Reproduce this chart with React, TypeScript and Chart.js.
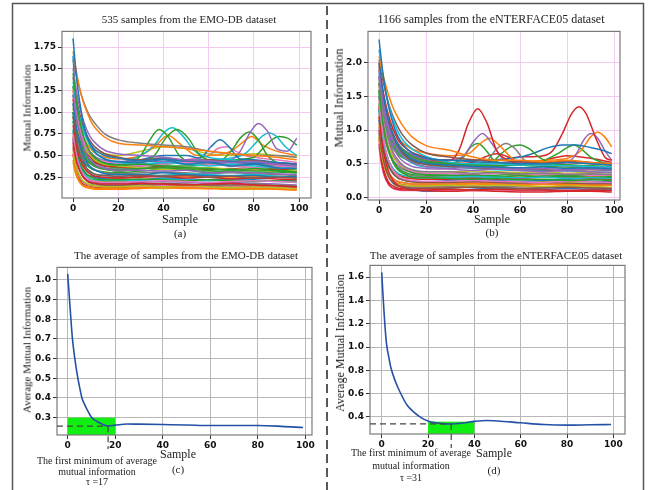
import React, { useEffect, useRef } from "react";
import { Chart, registerables } from "chart.js";

Chart.register(...registerables);

// ---------------- DATA ----------------
const TAB10 = ["#1f77b4", "#ff7f0e", "#2ca02c", "#d62728", "#9467bd", "#8c564b", "#e377c2", "#7f7f7f", "#bcbd22", "#17becf"];

const SAMPLE_X = [0, 1, 2, 4, 6, 8, 10, 14, 20, 30, 40, 50, 60, 70, 80, 90, 99];
const PEAK_HEAD_X = [0, 1, 2, 4, 6, 8, 10, 14, 20];
const X_TICKS = [0, 20, 40, 60, 80, 100];
const EMO_Y_TICKS = [0.25, 0.5, 0.75, 1.0, 1.25, 1.5, 1.75];
const ENT_Y_TICKS = [0.0, 0.5, 1.0, 1.5, 2.0];
const EMO_AVG_Y_TICKS = [0.3, 0.4, 0.5, 0.6, 0.7, 0.8, 0.9, 1.0];
const ENT_AVG_Y_TICKS = [0.4, 0.6, 0.8, 1.0, 1.2, 1.4, 1.6];

// (a) EMO-DB sample curves, values at SAMPLE_X
const EMO_CURVES: number[][] = [
  [1.85, 1.54, 1.29, 0.95, 0.73, 0.61, 0.53, 0.46, 0.43, 0.42, 0.45, 0.4, 0.42, 0.38, 0.4, 0.36, 0.35],
  [1.7, 1.54, 1.39, 1.16, 1.01, 0.89, 0.81, 0.71, 0.64, 0.62, 0.6, 0.58, 0.55, 0.52, 0.5, 0.48, 0.45],
  [1.45, 1.21, 1.03, 0.78, 0.62, 0.52, 0.47, 0.41, 0.39, 0.4, 0.38, 0.36, 0.35, 0.33, 0.35, 0.32, 0.3],
  [0.65, 0.49, 0.39, 0.27, 0.21, 0.19, 0.18, 0.17, 0.17, 0.18, 0.17, 0.16, 0.17, 0.18, 0.16, 0.15, 0.14],
  [1.2, 1.01, 0.86, 0.65, 0.51, 0.44, 0.39, 0.35, 0.33, 0.33, 0.32, 0.33, 0.3, 0.31, 0.3, 0.29, 0.28],
  [0.95, 0.76, 0.61, 0.44, 0.35, 0.31, 0.28, 0.27, 0.26, 0.27, 0.26, 0.27, 0.25, 0.26, 0.24, 0.25, 0.24],
  [0.75, 0.57, 0.44, 0.3, 0.24, 0.21, 0.2, 0.19, 0.19, 0.2, 0.21, 0.2, 0.19, 0.2, 0.21, 0.2, 0.19],
  [1.6, 1.47, 1.36, 1.17, 1.03, 0.93, 0.86, 0.75, 0.68, 0.64, 0.62, 0.6, 0.55, 0.52, 0.5, 0.5, 0.48],
  [0.55, 0.41, 0.32, 0.22, 0.18, 0.16, 0.15, 0.14, 0.14, 0.15, 0.14, 0.15, 0.14, 0.13, 0.14, 0.13, 0.12],
  [1.35, 1.18, 1.04, 0.83, 0.69, 0.59, 0.53, 0.46, 0.42, 0.4, 0.42, 0.4, 0.38, 0.4, 0.38, 0.36, 0.35],
  [1.1, 0.9, 0.74, 0.54, 0.43, 0.36, 0.33, 0.29, 0.28, 0.28, 0.3, 0.28, 0.27, 0.26, 0.27, 0.25, 0.26],
  [0.45, 0.32, 0.24, 0.16, 0.14, 0.13, 0.12, 0.12, 0.12, 0.13, 0.14, 0.13, 0.12, 0.13, 0.12, 0.12, 0.11],
  [1.0, 0.85, 0.74, 0.58, 0.48, 0.42, 0.38, 0.35, 0.34, 0.35, 0.36, 0.34, 0.33, 0.34, 0.32, 0.33, 0.31],
  [0.85, 0.68, 0.55, 0.4, 0.32, 0.28, 0.26, 0.25, 0.24, 0.25, 0.26, 0.24, 0.25, 0.23, 0.24, 0.23, 0.22],
  [1.5, 1.32, 1.17, 0.95, 0.8, 0.7, 0.64, 0.56, 0.52, 0.5, 0.48, 0.45, 0.44, 0.42, 0.43, 0.4, 0.38],
  [0.7, 0.52, 0.4, 0.27, 0.21, 0.18, 0.17, 0.16, 0.16, 0.17, 0.18, 0.17, 0.16, 0.17, 0.16, 0.15, 0.14],
  [1.25, 1.06, 0.92, 0.71, 0.59, 0.51, 0.47, 0.43, 0.41, 0.38, 0.4, 0.42, 0.4, 0.38, 0.36, 0.38, 0.36],
  [0.6, 0.42, 0.32, 0.21, 0.17, 0.16, 0.15, 0.15, 0.15, 0.16, 0.17, 0.16, 0.15, 0.16, 0.17, 0.16, 0.15],
  [1.05, 0.91, 0.81, 0.65, 0.55, 0.49, 0.44, 0.4, 0.38, 0.36, 0.34, 0.35, 0.36, 0.34, 0.33, 0.32, 0.33],
  [0.9, 0.72, 0.59, 0.43, 0.35, 0.3, 0.28, 0.27, 0.26, 0.28, 0.27, 0.29, 0.28, 0.27, 0.28, 0.26, 0.25],
  [1.3, 1.15, 1.02, 0.83, 0.71, 0.62, 0.56, 0.5, 0.47, 0.44, 0.46, 0.43, 0.42, 0.43, 0.41, 0.42, 0.4],
  [0.5, 0.35, 0.25, 0.16, 0.13, 0.12, 0.11, 0.11, 0.11, 0.12, 0.13, 0.12, 0.12, 0.11, 0.12, 0.11, 0.1],
  [0.8, 0.63, 0.51, 0.36, 0.29, 0.25, 0.23, 0.22, 0.22, 0.23, 0.22, 0.21, 0.22, 0.21, 0.2, 0.21, 0.2],
  [1.15, 0.98, 0.84, 0.65, 0.53, 0.47, 0.42, 0.38, 0.37, 0.35, 0.37, 0.36, 0.34, 0.35, 0.33, 0.34, 0.32],
  [0.68, 0.51, 0.4, 0.28, 0.22, 0.2, 0.19, 0.18, 0.18, 0.19, 0.2, 0.19, 0.18, 0.19, 0.18, 0.17, 0.16],
  [1.4, 1.23, 1.09, 0.88, 0.74, 0.65, 0.59, 0.52, 0.48, 0.45, 0.47, 0.44, 0.45, 0.43, 0.44, 0.41, 0.4],
  [0.58, 0.41, 0.31, 0.21, 0.17, 0.16, 0.15, 0.15, 0.15, 0.14, 0.15, 0.14, 0.13, 0.14, 0.13, 0.13, 0.12],
  [0.95, 0.79, 0.66, 0.5, 0.41, 0.36, 0.33, 0.3, 0.29, 0.3, 0.31, 0.3, 0.29, 0.3, 0.29, 0.28, 0.27],
  [0.42, 0.3, 0.23, 0.16, 0.14, 0.13, 0.12, 0.12, 0.12, 0.13, 0.12, 0.13, 0.12, 0.12, 0.11, 0.12, 0.11],
  [0.78, 0.59, 0.47, 0.32, 0.26, 0.23, 0.22, 0.21, 0.21, 0.21, 0.23, 0.22, 0.21, 0.22, 0.21, 0.2, 0.19],
  [1.65, 1.17, 0.86, 0.51, 0.35, 0.28, 0.25, 0.23, 0.22, 0.22, 0.24, 0.23, 0.22, 0.23, 0.22, 0.21, 0.22],
  [0.62, 0.48, 0.39, 0.28, 0.24, 0.22, 0.21, 0.2, 0.2, 0.22, 0.24, 0.26, 0.25, 0.24, 0.26, 0.25, 0.24],
  [1.0, 0.8, 0.66, 0.48, 0.39, 0.35, 0.33, 0.31, 0.3, 0.32, 0.34, 0.33, 0.31, 0.32, 0.3, 0.31, 0.3],
  [0.52, 0.37, 0.27, 0.18, 0.15, 0.14, 0.13, 0.13, 0.13, 0.14, 0.16, 0.15, 0.14, 0.15, 0.14, 0.13, 0.13],
  [1.2, 1.03, 0.9, 0.71, 0.59, 0.53, 0.48, 0.44, 0.43, 0.44, 0.43, 0.41, 0.42, 0.4, 0.41, 0.39, 0.38],
  [0.72, 0.56, 0.46, 0.34, 0.28, 0.26, 0.25, 0.24, 0.24, 0.26, 0.27, 0.28, 0.27, 0.26, 0.27, 0.26, 0.25],
];

// (a) curves with visible peaks: head at PEAK_HEAD_X, then tail points
const EMO_PEAK_HEAD_Y: number[][] = [
  [1.3, 1.1, 0.94, 0.72, 0.58, 0.5, 0.45, 0.41, 0.38],
  [1.1, 0.94, 0.82, 0.65, 0.54, 0.48, 0.44, 0.4, 0.38],
  [1.2, 1.03, 0.9, 0.71, 0.59, 0.53, 0.48, 0.44, 0.42],
  [1.0, 0.87, 0.77, 0.62, 0.53, 0.48, 0.45, 0.42, 0.4],
  [1.0, 0.85, 0.74, 0.58, 0.49, 0.43, 0.39, 0.36, 0.34],
  [0.9, 0.77, 0.67, 0.53, 0.45, 0.4, 0.37, 0.34, 0.32],
  [1.05, 0.9, 0.79, 0.63, 0.53, 0.47, 0.43, 0.4, 0.38],
  [0.95, 0.82, 0.72, 0.58, 0.49, 0.44, 0.41, 0.38, 0.36],
  [1.25, 1.08, 0.94, 0.75, 0.63, 0.57, 0.52, 0.48, 0.46],
  [0.9, 0.77, 0.67, 0.53, 0.45, 0.4, 0.37, 0.34, 0.32],
  [1.15, 1.0, 0.9, 0.74, 0.64, 0.59, 0.55, 0.52, 0.5],
];
const EMO_PEAK_TAIL_X: number[][] = [
  [25, 30, 34, 38, 42, 47, 52, 60, 70, 80, 90, 99],
  [30, 36, 41, 46, 51, 56, 60, 70, 80, 90, 99],
  [30, 36, 40, 44, 48, 54, 60, 70, 80, 90, 99],
  [30, 40, 50, 56, 61, 65, 69, 74, 80, 90, 99],
  [30, 40, 50, 60, 70, 74, 78, 82, 86, 90, 95, 99],
  [30, 40, 50, 60, 66, 70, 74, 78, 82, 86, 92, 99],
  [30, 40, 50, 60, 70, 76, 80, 84, 87, 90, 94, 99],
  [30, 40, 50, 60, 70, 80, 84, 88, 91, 95, 99],
  [30, 36, 42, 48, 55, 60, 70, 75, 79, 84, 90, 99],
  [30, 40, 50, 60, 64, 68, 72, 76, 80, 90, 99],
  [30, 40, 50, 60, 70, 80, 90, 99],
];
const EMO_PEAK_TAIL_Y: number[][] = [
  [0.4, 0.5, 0.68, 0.8, 0.72, 0.5, 0.42, 0.4, 0.38, 0.36, 0.35, 0.33],
  [0.42, 0.5, 0.7, 0.8, 0.7, 0.5, 0.45, 0.42, 0.4, 0.38, 0.36],
  [0.5, 0.62, 0.76, 0.82, 0.74, 0.55, 0.48, 0.45, 0.42, 0.4, 0.38],
  [0.45, 0.5, 0.5, 0.47, 0.6, 0.68, 0.6, 0.46, 0.45, 0.42, 0.4],
  [0.38, 0.42, 0.45, 0.43, 0.45, 0.55, 0.75, 0.87, 0.78, 0.58, 0.55, 0.7],
  [0.35, 0.38, 0.38, 0.4, 0.45, 0.55, 0.7, 0.77, 0.68, 0.5, 0.4, 0.38],
  [0.4, 0.42, 0.44, 0.45, 0.47, 0.52, 0.62, 0.73, 0.76, 0.72, 0.6, 0.5],
  [0.38, 0.4, 0.42, 0.44, 0.45, 0.48, 0.58, 0.68, 0.72, 0.7, 0.62],
  [0.5, 0.6, 0.73, 0.62, 0.5, 0.5, 0.55, 0.65, 0.72, 0.62, 0.55, 0.5],
  [0.35, 0.4, 0.45, 0.5, 0.58, 0.6, 0.55, 0.5, 0.48, 0.45, 0.42],
  [0.55, 0.6, 0.58, 0.52, 0.5, 0.52, 0.5, 0.48],
];
const EMO_PEAK_COLORS = ["#2ca02c", "#2ca02c", "#17becf", "#1f77b4", "#9467bd", "#2ca02c", "#17becf", "#2ca02c", "#ff7f0e", "#e377c2", "#bcbd22"];

// (b) eNTERFACE05 sample curves, values at SAMPLE_X
const ENT_CURVES: number[][] = [
  [2.35, 2.03, 1.76, 1.36, 1.09, 0.91, 0.79, 0.66, 0.58, 0.55, 0.53, 0.52, 0.5, 0.5, 0.52, 0.5, 0.48],
  [2.1, 1.93, 1.78, 1.53, 1.33, 1.19, 1.07, 0.9, 0.77, 0.7, 0.6, 0.55, 0.55, 0.53, 0.55, 0.52, 0.5],
  [1.6, 1.27, 1.02, 0.7, 0.52, 0.41, 0.36, 0.3, 0.29, 0.28, 0.27, 0.28, 0.26, 0.27, 0.25, 0.26, 0.25],
  [1.2, 0.89, 0.66, 0.39, 0.25, 0.18, 0.14, 0.11, 0.1, 0.09, 0.1, 0.09, 0.08, 0.08, 0.09, 0.09, 0.08],
  [1.9, 1.57, 1.32, 0.97, 0.75, 0.62, 0.54, 0.46, 0.43, 0.42, 0.4, 0.42, 0.4, 0.38, 0.4, 0.38, 0.37],
  [1.0, 0.72, 0.53, 0.31, 0.22, 0.17, 0.16, 0.14, 0.14, 0.14, 0.15, 0.14, 0.13, 0.14, 0.15, 0.14, 0.13],
  [1.45, 1.11, 0.86, 0.55, 0.4, 0.32, 0.28, 0.25, 0.24, 0.24, 0.25, 0.24, 0.23, 0.22, 0.24, 0.23, 0.22],
  [1.75, 1.45, 1.21, 0.88, 0.67, 0.56, 0.48, 0.41, 0.38, 0.38, 0.36, 0.37, 0.35, 0.36, 0.34, 0.35, 0.34],
  [0.9, 0.66, 0.5, 0.32, 0.24, 0.2, 0.18, 0.17, 0.17, 0.18, 0.17, 0.18, 0.17, 0.16, 0.17, 0.16, 0.15],
  [1.3, 1.02, 0.81, 0.55, 0.43, 0.36, 0.33, 0.3, 0.29, 0.3, 0.31, 0.3, 0.29, 0.3, 0.28, 0.29, 0.28],
  [2.0, 1.73, 1.5, 1.16, 0.94, 0.78, 0.69, 0.57, 0.51, 0.48, 0.46, 0.45, 0.44, 0.45, 0.43, 0.44, 0.42],
  [1.1, 0.8, 0.61, 0.38, 0.28, 0.24, 0.22, 0.2, 0.2, 0.2, 0.21, 0.2, 0.19, 0.2, 0.19, 0.18, 0.18],
  [1.55, 1.24, 1.01, 0.71, 0.54, 0.44, 0.39, 0.34, 0.33, 0.32, 0.33, 0.31, 0.32, 0.3, 0.31, 0.3, 0.29],
  [0.8, 0.53, 0.37, 0.2, 0.14, 0.12, 0.11, 0.11, 0.11, 0.12, 0.11, 0.12, 0.11, 0.11, 0.1, 0.11, 0.1],
  [1.8, 1.56, 1.35, 1.05, 0.85, 0.71, 0.62, 0.52, 0.46, 0.43, 0.45, 0.44, 0.42, 0.43, 0.41, 0.42, 0.4],
  [1.25, 0.96, 0.75, 0.49, 0.36, 0.29, 0.26, 0.23, 0.22, 0.22, 0.23, 0.22, 0.21, 0.22, 0.21, 0.2, 0.2],
  [1.65, 1.36, 1.14, 0.83, 0.64, 0.53, 0.46, 0.39, 0.36, 0.36, 0.35, 0.36, 0.35, 0.34, 0.35, 0.33, 0.33],
  [0.95, 0.69, 0.52, 0.32, 0.23, 0.19, 0.18, 0.16, 0.16, 0.16, 0.17, 0.16, 0.16, 0.15, 0.16, 0.15, 0.14],
  [1.4, 1.17, 1.0, 0.75, 0.6, 0.51, 0.45, 0.4, 0.38, 0.38, 0.39, 0.38, 0.37, 0.38, 0.36, 0.37, 0.36],
  [2.2, 1.95, 1.74, 1.39, 1.16, 0.98, 0.86, 0.72, 0.61, 0.52, 0.5, 0.5, 0.48, 0.48, 0.47, 0.46, 0.45],
  [1.15, 0.89, 0.7, 0.47, 0.35, 0.29, 0.26, 0.24, 0.23, 0.25, 0.26, 0.25, 0.24, 0.25, 0.26, 0.24, 0.23],
  [0.85, 0.63, 0.48, 0.31, 0.24, 0.21, 0.19, 0.18, 0.18, 0.19, 0.2, 0.19, 0.18, 0.19, 0.18, 0.19, 0.18],
  [1.7, 1.4, 1.17, 0.84, 0.63, 0.51, 0.44, 0.37, 0.34, 0.33, 0.32, 0.33, 0.34, 0.33, 0.32, 0.33, 0.31],
  [1.35, 1.05, 0.82, 0.55, 0.42, 0.35, 0.31, 0.28, 0.27, 0.27, 0.28, 0.27, 0.28, 0.26, 0.27, 0.28, 0.26],
  [1.05, 0.77, 0.58, 0.37, 0.28, 0.23, 0.22, 0.2, 0.2, 0.21, 0.22, 0.21, 0.2, 0.21, 0.2, 0.21, 0.2],
  [1.95, 1.68, 1.46, 1.13, 0.91, 0.76, 0.66, 0.55, 0.49, 0.46, 0.44, 0.43, 0.42, 0.41, 0.4, 0.41, 0.4],
  [0.75, 0.5, 0.34, 0.19, 0.13, 0.11, 0.1, 0.1, 0.1, 0.1, 0.1, 0.11, 0.1, 0.1, 0.11, 0.1, 0.1],
  [1.5, 1.2, 0.97, 0.68, 0.52, 0.42, 0.37, 0.32, 0.31, 0.3, 0.29, 0.3, 0.29, 0.3, 0.29, 0.28, 0.28],
  [1.2, 0.93, 0.72, 0.47, 0.35, 0.29, 0.26, 0.23, 0.22, 0.23, 0.24, 0.23, 0.22, 0.23, 0.22, 0.23, 0.22],
  [1.85, 1.6, 1.38, 1.06, 0.85, 0.71, 0.61, 0.51, 0.45, 0.45, 0.43, 0.41, 0.4, 0.4, 0.39, 0.38, 0.37],
  [1.4, 0.91, 0.61, 0.32, 0.21, 0.17, 0.16, 0.12, 0.09, 0.1, 0.12, 0.14, 0.13, 0.12, 0.13, 0.12, 0.12],
  [1.0, 0.8, 0.64, 0.46, 0.37, 0.31, 0.29, 0.28, 0.27, 0.29, 0.31, 0.3, 0.32, 0.31, 0.3, 0.31, 0.3],
  [1.6, 1.44, 1.29, 1.06, 0.91, 0.79, 0.71, 0.61, 0.54, 0.5, 0.48, 0.47, 0.48, 0.5, 0.48, 0.47, 0.46],
  [0.9, 0.6, 0.41, 0.23, 0.17, 0.14, 0.13, 0.13, 0.13, 0.14, 0.16, 0.15, 0.16, 0.15, 0.14, 0.15, 0.14],
  [1.3, 1.09, 0.93, 0.7, 0.55, 0.47, 0.42, 0.37, 0.35, 0.35, 0.34, 0.36, 0.35, 0.34, 0.35, 0.34, 0.33],
  [2.05, 1.86, 1.68, 1.4, 1.2, 1.05, 0.93, 0.78, 0.66, 0.6, 0.56, 0.55, 0.53, 0.52, 0.54, 0.52, 0.5],
];

// (b) curves with visible peaks
const ENT_PEAK_HEAD_Y: number[][] = [
  [2.0, 1.74, 1.53, 1.22, 1.01, 0.86, 0.77, 0.67, 0.6],
  [1.8, 1.58, 1.39, 1.11, 0.93, 0.8, 0.72, 0.63, 0.57],
  [1.9, 1.67, 1.48, 1.21, 1.02, 0.89, 0.81, 0.72, 0.66],
  [1.5, 1.32, 1.17, 0.95, 0.8, 0.7, 0.64, 0.56, 0.52],
  [1.6, 1.41, 1.25, 1.01, 0.85, 0.74, 0.67, 0.59, 0.55],
  [1.4, 1.24, 1.1, 0.9, 0.76, 0.67, 0.61, 0.54, 0.51],
  [1.7, 1.5, 1.33, 1.08, 0.91, 0.8, 0.72, 0.64, 0.59],
  [1.8, 1.58, 1.39, 1.11, 0.93, 0.8, 0.72, 0.63, 0.57],
  [1.5, 1.32, 1.18, 0.96, 0.81, 0.72, 0.65, 0.58, 0.54],
  [1.6, 1.41, 1.25, 1.02, 0.87, 0.76, 0.69, 0.61, 0.57],
  [1.3, 1.15, 1.03, 0.85, 0.73, 0.64, 0.59, 0.53, 0.49],
  [1.7, 1.49, 1.31, 1.05, 0.87, 0.76, 0.68, 0.59, 0.54],
];
const ENT_PEAK_TAIL_X: number[][] = [
  [25, 30, 34, 38, 42, 46, 50, 55, 60, 70, 80, 90, 99],
  [30, 36, 40, 44, 48, 52, 60, 70, 80, 90, 99],
  [30, 38, 43, 47, 51, 56, 60, 70, 80, 90, 99],
  [30, 36, 39, 42, 45, 49, 55, 70, 80, 90, 99],
  [30, 40, 46, 50, 54, 58, 62, 70, 80, 90, 99],
  [30, 40, 48, 52, 56, 60, 64, 68, 74, 80, 90, 99],
  [30, 40, 50, 60, 66, 72, 78, 84, 90, 95, 99],
  [30, 40, 50, 60, 70, 74, 78, 82, 85, 88, 92, 96, 99],
  [30, 40, 50, 60, 70, 80, 84, 87, 90, 93, 96, 99],
  [30, 40, 50, 60, 70, 80, 86, 90, 93, 96, 99],
  [30, 40, 50, 60, 70, 76, 80, 83, 86, 90, 95, 99],
  [30, 40, 45, 50, 55, 60, 70, 80, 90, 99],
];
const ENT_PEAK_TAIL_Y: number[][] = [
  [0.55, 0.55, 0.7, 1.1, 1.32, 1.1, 0.7, 0.55, 0.5, 0.5, 0.52, 0.5, 0.48],
  [0.55, 0.62, 0.82, 0.95, 0.8, 0.6, 0.5, 0.48, 0.47, 0.45, 0.44],
  [0.62, 0.65, 0.8, 0.88, 0.78, 0.6, 0.5, 0.48, 0.47, 0.45, 0.44],
  [0.5, 0.6, 0.75, 0.8, 0.72, 0.55, 0.5, 0.46, 0.45, 0.43, 0.42],
  [0.5, 0.5, 0.55, 0.72, 0.8, 0.72, 0.55, 0.5, 0.48, 0.46, 0.45],
  [0.48, 0.48, 0.52, 0.65, 0.75, 0.78, 0.72, 0.6, 0.5, 0.48, 0.46, 0.45],
  [0.55, 0.55, 0.56, 0.6, 0.66, 0.74, 0.78, 0.78, 0.74, 0.7, 0.65],
  [0.52, 0.5, 0.55, 0.6, 0.62, 0.7, 0.95, 1.25, 1.35, 1.25, 0.9, 0.6, 0.55],
  [0.5, 0.48, 0.5, 0.52, 0.5, 0.52, 0.65, 0.85, 0.95, 0.88, 0.7, 0.55],
  [0.52, 0.5, 0.5, 0.52, 0.55, 0.58, 0.7, 0.9, 0.97, 0.9, 0.75],
  [0.46, 0.45, 0.46, 0.5, 0.55, 0.65, 0.74, 0.78, 0.72, 0.6, 0.52, 0.5],
  [0.5, 0.52, 0.6, 0.65, 0.6, 0.5, 0.55, 0.62, 0.58, 0.52],
];
const ENT_PEAK_COLORS = ["#d62728", "#9467bd", "#ff7f0e", "#2ca02c", "#7f7f7f", "#2ca02c", "#1f77b4", "#d62728", "#9467bd", "#ff7f0e", "#2ca02c", "#d62728"];

// (c) average of EMO-DB samples
const EMO_AVG_X = [0, 1, 2, 3, 4, 5, 6, 7, 8, 10, 12, 14, 17, 20, 25, 30, 40, 50, 60, 70, 80, 90, 99];
const EMO_AVG_Y = [1.03, 0.86, 0.7, 0.6, 0.52, 0.455, 0.4, 0.37, 0.345, 0.302, 0.283, 0.27, 0.258, 0.262, 0.268, 0.267, 0.265, 0.263, 0.26, 0.26, 0.26, 0.256, 0.25];
// (d) average of eNTERFACE05 samples
const ENT_AVG_X = [0, 1, 2, 3, 4, 6, 8, 11, 14, 17, 20, 25, 30, 35, 40, 45, 50, 60, 70, 80, 90, 99];
const ENT_AVG_Y = [1.64, 1.3, 1.04, 0.92, 0.82, 0.7, 0.61, 0.5, 0.44, 0.395, 0.365, 0.345, 0.34, 0.348, 0.362, 0.37, 0.366, 0.35, 0.335, 0.33, 0.333, 0.335];

// first-minimum markers
const EMO_TAU = 17;
const EMO_MIN_VALUE = 0.257;
const EMO_BAND_X = [0, 20];
const EMO_BAND_TOP = 0.3;
const ENT_TAU_LINE = 30;
const ENT_MIN_VALUE = 0.34;
const ENT_BAND_X = [20, 40];
const ENT_BAND_TOP = 0.36;

// ---------------- HELPERS ----------------
const SERIF = '"Liberation Serif", "Times New Roman", serif';
const TICK_FONT = { family: '"DejaVu Sans", sans-serif', weight: "bold" as const, size: 9 };

function lineDataset(xs: number[], ys: number[], color: string, width = 1.5) {
  return {
    data: xs.map((x, i) => ({ x, y: ys[i] })),
    borderColor: color,
    borderWidth: width,
    pointRadius: 0,
    fill: false,
    cubicInterpolationMode: "monotone" as const,
  };
}

const framePlugin = {
  id: "frame",
  afterDatasetsDraw(chart: any) {
    const { ctx, chartArea: a } = chart;
    ctx.save();
    ctx.strokeStyle = "#7a7a7a";
    ctx.lineWidth = 1.2;
    ctx.strokeRect(a.left, a.top, a.right - a.left, a.bottom - a.top);
    ctx.restore();
  },
};

function markerPlugin(tau: number, minVal: number, band: number[], bandTop: number) {
  return {
    id: "minMarker",
    beforeDatasetsDraw(chart: any) {
      const { ctx, chartArea: a, scales } = chart;
      const x0 = scales.x.getPixelForValue(band[0]);
      const x1 = scales.x.getPixelForValue(band[1]);
      const yt = scales.y.getPixelForValue(bandTop);
      ctx.save();
      ctx.fillStyle = "#11ee11";
      ctx.fillRect(x0, yt, x1 - x0, a.bottom - yt);
      ctx.restore();
    },
    afterDatasetsDraw(chart: any) {
      const { ctx, chartArea: a, scales } = chart;
      const xt = scales.x.getPixelForValue(tau);
      const ym = scales.y.getPixelForValue(minVal);
      ctx.save();
      ctx.strokeStyle = "#444";
      ctx.lineWidth = 1.2;
      ctx.setLineDash([6, 4]);
      ctx.beginPath();
      ctx.moveTo(a.left, ym);
      ctx.lineTo(xt, ym);
      ctx.moveTo(xt, ym);
      ctx.lineTo(xt, a.bottom + 14);
      ctx.stroke();
      ctx.restore();
    },
  };
}

type PanelProps = {
  left: number; top: number; width: number; height: number;
  yW: number; xH: number; padTop: number; padRight: number;
  datasets: any[]; xMin: number; xMax: number; yMin: number; yMax: number;
  yTicks: number[]; decimals: number; gridColor: string; plugins?: any[];
};

function Panel(p: PanelProps) {
  const ref = useRef<HTMLCanvasElement | null>(null);
  useEffect(() => {
    if (!ref.current) return;
    const chart = new Chart(ref.current, {
      type: "line",
      data: { datasets: p.datasets },
      options: {
        responsive: false,
        animation: false,
        devicePixelRatio: 1,
        layout: { padding: { top: p.padTop, right: p.padRight, left: 0, bottom: 0 } },
        plugins: { legend: { display: false }, tooltip: { enabled: false }, title: { display: false } },
        scales: {
          x: {
            type: "linear",
            min: p.xMin,
            max: p.xMax,
            afterBuildTicks: (s: any) => { s.ticks = X_TICKS.map((v) => ({ value: v })); },
            afterFit: (s: any) => { s.height = p.xH; },
            ticks: { font: TICK_FONT, color: "#111", maxRotation: 0, autoSkip: false, padding: 1, callback: (v: any) => String(v) },
            grid: { color: p.gridColor, lineWidth: 1, tickColor: "#333", tickLength: 4 },
            border: { display: false },
          },
          y: {
            type: "linear",
            min: p.yMin,
            max: p.yMax,
            afterBuildTicks: (s: any) => { s.ticks = p.yTicks.map((v) => ({ value: v })); },
            afterFit: (s: any) => { s.width = p.yW; },
            ticks: { font: TICK_FONT, color: "#111", padding: 2, callback: (v: any) => Number(v).toFixed(p.decimals) },
            grid: { color: p.gridColor, lineWidth: 1, tickColor: "#333", tickLength: 4 },
            border: { display: false },
          },
        },
      } as any,
      plugins: [framePlugin, ...(p.plugins || [])],
    });
    return () => chart.destroy();
  }, []);
  return (
    <canvas
      ref={ref}
      width={p.width}
      height={p.height}
      style={{ position: "absolute", left: p.left, top: p.top, width: p.width, height: p.height }}
    />
  );
}

function Txt({ x, y, size, children, rotate }: { x: number; y: number; size: number; children: any; rotate?: boolean }) {
  return (
    <div
      style={{
        position: "absolute",
        left: x,
        top: y,
        transform: `translate(-50%, -50%)${rotate ? " rotate(-90deg)" : ""}`,
        whiteSpace: "nowrap",
        fontFamily: SERIF,
        fontSize: size,
        color: "#222",
        lineHeight: 1,
      }}
    >
      {children}
    </div>
  );
}

export default function App() {
  const emoSets = [
    ...EMO_CURVES.map((ys, i) => lineDataset(SAMPLE_X, ys, TAB10[i % 10])),
    ...EMO_PEAK_HEAD_Y.map((head, i) =>
      lineDataset([...PEAK_HEAD_X, ...EMO_PEAK_TAIL_X[i]], [...head, ...EMO_PEAK_TAIL_Y[i]], EMO_PEAK_COLORS[i])),
  ];
  const entSets = [
    ...ENT_CURVES.map((ys, i) => lineDataset(SAMPLE_X, ys, TAB10[i % 10])),
    ...ENT_PEAK_HEAD_Y.map((head, i) =>
      lineDataset([...PEAK_HEAD_X, ...ENT_PEAK_TAIL_X[i]], [...head, ...ENT_PEAK_TAIL_Y[i]], ENT_PEAK_COLORS[i])),
  ];
  const emoAvg = [lineDataset(EMO_AVG_X, EMO_AVG_Y, "#2451a6", 1.6)];
  const entAvg = [lineDataset(ENT_AVG_X, ENT_AVG_Y, "#2451a6", 1.6)];
  const pink = "#f1c9f1";
  const gray = "#b8b8b8";

  return (
    <div style={{ position: "absolute", left: 0, top: 0, width: 653, height: 490, background: "#fff", overflow: "hidden" }}>
      <svg width={653} height={490} style={{ position: "absolute", left: 0, top: 0 }}>
        <rect x={12.5} y={3.5} width={631} height={500} fill="none" stroke="#555" strokeWidth={1.5} />
        <line x1={327} y1={6} x2={327} y2={490} stroke="#222" strokeWidth={1.5} strokeDasharray="9 5" />
      </svg>

      {/* (a) */}
      <Panel left={22} top={24} width={294} height={190} yW={40} xH={16} padTop={4} padRight={5}
        datasets={emoSets} xMin={-4.9} xMax={105.3} yMin={0.01} yMax={1.93}
        yTicks={EMO_Y_TICKS} decimals={2} gridColor={pink} />
      <Txt x={189} y={19} size={11}>535 samples from the EMO-DB dataset</Txt>
      <Txt x={27} y={108} size={11} rotate>Mutual Information</Txt>
      <Txt x={180} y={219} size={12}>Sample</Txt>
      <Txt x={180} y={233} size={11}>(a)</Txt>

      {/* (b) */}
      <Panel left={332} top={24} width={293} height={192} yW={36} xH={16} padTop={4} padRight={5}
        datasets={entSets} xMin={-4.7} xMax={102.5} yMin={-0.04} yMax={2.47}
        yTicks={ENT_Y_TICKS} decimals={1} gridColor={pink} />
      <Txt x={491} y={19} size={12}>1166 samples from the eNTERFACE05 dataset</Txt>
      <Txt x={339} y={98} size={12.5} rotate>Mutual Information</Txt>
      <Txt x={492} y={219} size={12}>Sample</Txt>
      <Txt x={492} y={232} size={11}>(b)</Txt>

      {/* (c) */}
      <Panel left={20} top={260} width={297} height={191} yW={37} xH={16} padTop={4} padRight={5}
        datasets={emoAvg} xMin={-4.5} xMax={102.8} yMin={0.212} yMax={1.063}
        yTicks={EMO_AVG_Y_TICKS} decimals={1} gridColor={gray}
        plugins={[markerPlugin(EMO_TAU, EMO_MIN_VALUE, EMO_BAND_X, EMO_BAND_TOP)]} />
      <Txt x={186} y={255} size={11}>The average of samples from the EMO-DB dataset</Txt>
      <Txt x={27} y={350} size={11} rotate>Average Mutual Information</Txt>
      <Txt x={178} y={454} size={12}>Sample</Txt>
      <Txt x={178} y={469} size={11}>(c)</Txt>
      <Txt x={97} y={461} size={10}>The first minimum of average</Txt>
      <Txt x={97} y={472} size={10}>mutual information</Txt>
      <Txt x={97} y={482} size={10}>τ =17</Txt>

      {/* (d) */}
      <Panel left={333} top={258} width={297} height={192} yW={37} xH={16} padTop={4} padRight={5}
        datasets={entAvg} xMin={-5.05} xMax={105} yMin={0.254} yMax={1.7}
        yTicks={ENT_AVG_Y_TICKS} decimals={1} gridColor={gray}
        plugins={[markerPlugin(ENT_TAU_LINE, ENT_MIN_VALUE, ENT_BAND_X, ENT_BAND_TOP)]} />
      <Txt x={496} y={255} size={11}>The average of samples from the eNTERFACE05 dataset</Txt>
      <Txt x={340} y={343} size={12} rotate>Average Mutual Information</Txt>
      <Txt x={494} y={453} size={12}>Sample</Txt>
      <Txt x={494} y={470} size={11}>(d)</Txt>
      <Txt x={411} y={453} size={10}>The first minimum of average</Txt>
      <Txt x={411} y={466} size={10}>mutual information</Txt>
      <Txt x={411} y={478} size={10}>τ =31</Txt>
    </div>
  );
}
